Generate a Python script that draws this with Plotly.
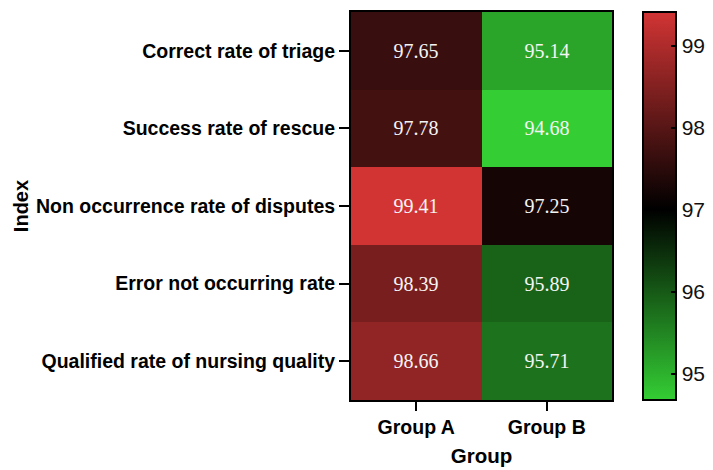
import plotly.graph_objects as go

# Nursing quality indices for the two groups
indices = [
    "Correct rate of triage",
    "Success rate of rescue",
    "Non occurrence rate of disputes",
    "Error not occurring rate",
    "Qualified rate of nursing quality",
]
groups = ["Group A", "Group B"]
group_a = [97.65, 97.78, 99.41, 98.39, 98.66]
group_b = [95.14, 94.68, 97.25, 95.89, 95.71]
cbar_ticks = [95, 96, 97, 98, 99]

z = [[a, b] for a, b in zip(group_a, group_b)]
zmin = min(group_a + group_b)
zmax = max(group_a + group_b)
mid = (97 - zmin) / (zmax - zmin)

colorscale = [
    [0.0, "rgb(52,206,52)"],
    [mid, "rgb(0,0,0)"],
    [1.0, "rgb(210,52,52)"],
]

fig = go.Figure(
    go.Heatmap(
        z=z,
        x=groups,
        y=indices,
        zmin=zmin,
        zmax=zmax,
        colorscale=colorscale,
        texttemplate="%{z:.2f}",
        textfont=dict(family="Liberation Serif", size=20, color="#f4f4f4"),
        xgap=0,
        ygap=0,
        colorbar=dict(
            x=1.119,
            xanchor="left",
            xpad=0,
            y=0.5,
            yanchor="middle",
            len=1.0,
            lenmode="fraction",
            thickness=33,
            ypad=0,
            outlinewidth=2,
            outlinecolor="black",
            tickvals=cbar_ticks,
            ticks="inside",
            ticklen=6,
            tickwidth=2,
            tickcolor="black",
            tickfont=dict(family="Liberation Sans", size=21, color="#111"),
        ),
    )
)

fig.update_layout(
    width=713,
    height=470,
    margin=dict(l=351, r=101, t=12, b=70, autoexpand=False),
    paper_bgcolor="white",
    plot_bgcolor="white",
    font=dict(family="Liberation Sans", color="black"),
)

fig.update_xaxes(
    title=dict(text="<b>Group</b>", font=dict(size=20.5), standoff=11),
    tickfont=dict(size=19.5, family="Liberation Sans"),
    tickprefix="<b>",
    ticksuffix="</b>",
    showline=True,
    linecolor="black",
    linewidth=2,
    mirror=True,
    ticks="outside",
    ticklen=9,
    tickwidth=2,
    tickcolor="black",
    showgrid=False,
)
fig.update_yaxes(
    title=dict(text="<b>Index</b>", font=dict(size=20), standoff=2),
    tickfont=dict(size=19.5, family="Liberation Sans"),
    tickprefix="<b>",
    ticksuffix="</b>",
    autorange="reversed",
    showline=True,
    linecolor="black",
    linewidth=2,
    mirror=True,
    ticks="outside",
    ticklen=10,
    tickwidth=2,
    tickcolor="black",
    showgrid=False,
)

fig.write_html("out.html")
